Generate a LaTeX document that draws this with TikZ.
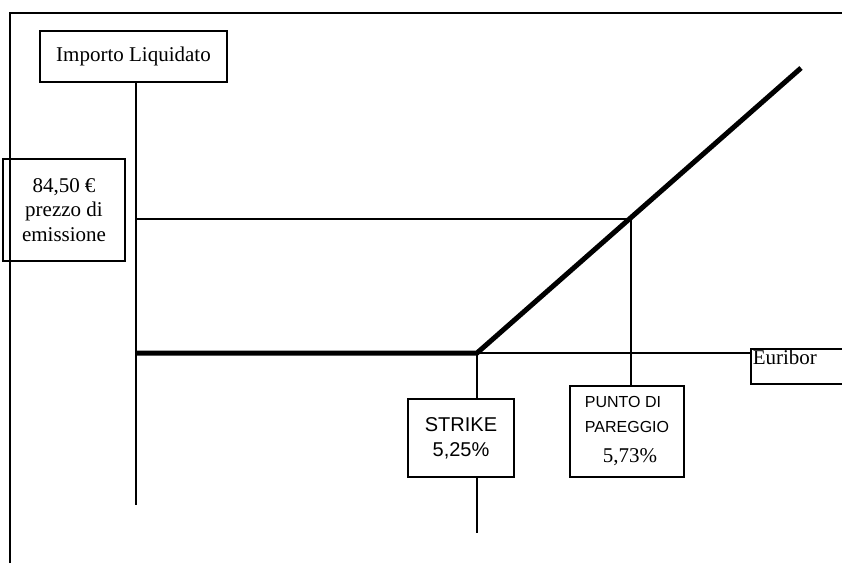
\documentclass[tikz,border=0pt]{standalone}
\usepackage{fontspec}
\setmainfont{Liberation Serif}
\setsansfont{Liberation Sans}
\usetikzlibrary{calc,positioning}

\begin{document}
\begin{tikzpicture}[x=1pt, y=-1pt,
    labelbox/.style={draw, line width=1.5pt, inner sep=2pt, align=center, font=\fontsize{21}{25}\selectfont},
    axisline/.style={line width=1.3pt},
    payoff/.style={line width=5pt}]

\clip (0,0) rectangle (842,563);

% Frame
\draw[line width=1.6pt] (10,563) -- (10,13) -- (842,13);

% Key points of the payoff
\coordinate (O) at (136,353);
\coordinate (K) at (477,353);
\coordinate (B) at (631,219);
\coordinate (E) at (801,68);
\coordinate (yend) at (136,505);
\coordinate (kend) at (477,533);

% Label boxes
\node[labelbox, minimum width=187pt, minimum height=51pt] (imp) at (133.5,56.5) {Importo Liquidato};
\node[labelbox, minimum width=122pt, minimum height=102pt, font=\fontsize{21}{24.5}\selectfont] (prezzo) at (64,210) {84,50 €\\prezzo di\\emissione};
\node[labelbox, minimum width=106pt, minimum height=78pt, font=\sffamily\fontsize{20}{25}\selectfont] (strike) at (461,438) {STRIKE\\5,25\%};
\node[labelbox, align=left, minimum width=114pt, minimum height=91pt] (punto) at (627,431.5) {%
    {\sffamily\fontsize{16}{25}\selectfont PUNTO DI}\\
    {\sffamily\fontsize{16}{25}\selectfont PAREGGIO}\\[5pt]
    \hspace*{18pt}5,73\%};
\node[draw, line width=1.5pt, anchor=north west, inner sep=2pt, text width=96pt, align=left,
      text height=14pt, text depth=17pt, font=\fontsize{21}{24}\selectfont] (eur) at (750,348) {Euribor};

% Axes
\draw[axisline] (O |- imp.south) -- (yend);
\draw[line width=1.6pt] (K) -- ++(63,0);
\draw[axisline] (K) -- (K -| eur.west);

% Issue price and break-even
\draw[axisline] (O |- B) -- (B);
\draw[axisline] (B) -- (B |- punto.north);

% Strike marker
\draw[axisline] (K) -- (K |- strike.north);
\draw[axisline] (K |- strike.south) -- (kend);

% Payoff
\draw[payoff] (O) -- (K) -- (E);

\end{tikzpicture}
\end{document}
